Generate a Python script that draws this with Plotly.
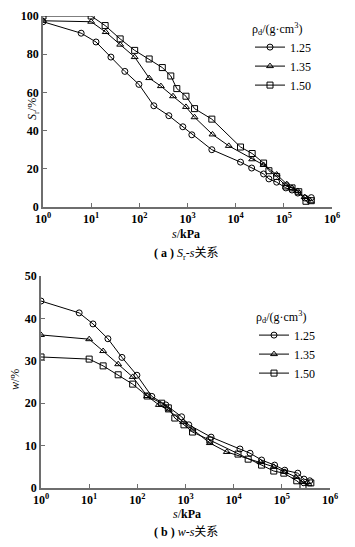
import plotly.graph_objects as go

W, H = 355, 547

# ---------------- data ----------------
labels = ["1.25", "1.35", "1.50"]

# (a) Sr - s
sa_125 = [1, 6.2, 12.6, 25.7, 50, 98, 200, 410, 800, 1230, 3200, 12600, 21500, 38000, 49000, 71000, 110000, 148000, 195000, 275000, 372000]
sr_125 = [97, 91, 86.4, 78.5, 71, 64.2, 53, 47.8, 42, 37.8, 30, 23.5, 20.4, 17.3, 14.7, 13, 10, 8.9, 7.3, 4.7, 4.9]

sa_135 = [1, 10, 20, 40, 80, 160, 280, 500, 930, 1400, 3300, 7200, 22000, 38000, 71000, 115000, 148000, 195000, 270000, 360000]
sr_135 = [97.5, 97, 91.6, 85, 78.5, 67.5, 63.3, 58, 52.4, 47, 38, 32, 25, 22, 17, 12, 10, 8.4, 5.2, 3]

sa_150 = [1, 10, 19.5, 40, 80, 160, 300, 450, 600, 930, 1400, 3200, 12600, 22000, 38000, 49000, 71000, 110000, 148000, 204000, 288000, 372000]
sr_150 = [100, 100, 95, 88, 82, 77.5, 73, 68.6, 62, 58, 51.5, 46, 31.4, 28, 23, 19, 16, 11, 10, 8, 3, 3.3]

# (b) w - s
sb_125 = [1, 6.2, 12, 24.5, 48, 98, 200, 390, 830, 1170, 3400, 13500, 21900, 38000, 70800, 115000, 214000, 288000, 380000]
w_125 = [44.1, 41.3, 38.7, 35.2, 30.8, 26.6, 21.6, 19.6, 16.8, 14.9, 12.0, 9.2, 8.2, 6.6, 5.4, 4.2, 3.5, 2.1, 1.7]

sb_135 = [1, 10, 19.5, 40, 80, 160, 280, 450, 890, 1400, 3200, 7200, 36000, 68000, 115000, 195000, 270000, 360000]
w_135 = [36.1, 35.1, 32.3, 29.2, 26.2, 21.7, 19.6, 18.3, 15.6, 13.8, 10.6, 8.5, 6.1, 5.0, 3.8, 2.6, 1.4, 0.9]

sb_150 = [1, 10, 19.5, 40, 80, 160, 320, 440, 600, 930, 1400, 3200, 12300, 20000, 38000, 68000, 110000, 204000, 275000, 400000]
w_150 = [30.9, 30.4, 28.8, 26.7, 24.5, 21.7, 20.0, 18.9, 16.5, 14.9, 13.2, 11.3, 8.0, 6.8, 5.4, 4.0, 3.5, 1.7, 0.5, 1.2]

x_tickvals = [1, 10, 100, 1000, 10000, 100000, 1000000]
x_ticktext = ["10<sup>%d</sup>" % i for i in range(7)]
ya_ticks = [0, 20, 40, 60, 80, 100]
yb_ticks = [0, 10, 20, 30, 40, 50]

symbols = ["circle-open", "triangle-up-open", "square-open"]

# ---------------- helpers ----------------
def px(x):
    return x / W

def py(y):
    return 1 - y / H

SERIF = "Liberation Serif"
MIX = "Liberation Serif, Noto Sans CJK SC"

fig = go.Figure()

sets_a = [(sa_125, sr_125), (sa_135, sr_135), (sa_150, sr_150)]
sets_b = [(sb_125, w_125), (sb_135, w_135), (sb_150, w_150)]

def add_series(sets, xa, ya, leg):
    for i, (xs, ys) in enumerate(sets):
        fig.add_trace(go.Scatter(
            x=xs, y=ys, mode="lines+markers", name=labels[i],
            line=dict(color="black", width=1),
            marker=dict(symbol=symbols[i], size=6, color="black",
                        line=dict(width=1, color="black")),
            xaxis=xa, yaxis=ya, legend=leg))

add_series(sets_a, "x", "y", "legend")
add_series(sets_b, "x2", "y2", "legend2")

axis_common = dict(
    showline=True, linecolor="#6e6e6e", linewidth=1.5,
    ticks="inside", ticklen=4, tickwidth=1.2, tickcolor="#6e6e6e",
    showgrid=False, zeroline=False, automargin=False,
    tickfont=dict(family=SERIF, size=12, color="black", weight="bold"),
)

leg_common = dict(xanchor="left", yanchor="top",
                  bgcolor="rgba(0,0,0,0)", borderwidth=0, tracegroupgap=0,
                  itemwidth=30,
                  title=dict(text="ρ<sub>d</sub>/(g·cm<sup>3</sup>)",
                             font=dict(family=SERIF, size=12, color="black")),
                  font=dict(family=SERIF, size=12, color="black"))

fig.update_layout(
    width=W, height=H,
    margin=dict(l=0, r=0, t=0, b=0, autoexpand=False),
    paper_bgcolor="white", plot_bgcolor="white",
    showlegend=True,
    xaxis=dict(type="log", range=[0, 6], domain=[px(43), px(332)], anchor="y",
               tickvals=x_tickvals, ticktext=x_ticktext, **axis_common),
    yaxis=dict(range=[0, 100], domain=[py(207), py(16)], anchor="x",
               tickvals=ya_ticks, **axis_common),
    xaxis2=dict(type="log", range=[0, 6], domain=[px(41), px(330)], anchor="y2",
                tickvals=x_tickvals, ticktext=x_ticktext, **axis_common),
    yaxis2=dict(range=[0, 50], domain=[py(488), py(276)], anchor="x2",
                tickvals=yb_ticks, **axis_common),
    legend=dict(x=px(250), y=py(17), **leg_common),
    legend2=dict(x=px(254), y=py(305), **leg_common),
)

annos = [
    # axis titles
    dict(x=px(186), y=py(234), text="<i>s</i>/<b>kPa</b>", font=dict(family=SERIF, size=12)),
    dict(x=px(187), y=py(514), text="<i>s</i>/<b>kPa</b>", font=dict(family=SERIF, size=12)),
    dict(x=px(33), y=py(109), text="<i>S</i><sub>r</sub>/%", textangle=-90, font=dict(family=SERIF, size=12)),
    dict(x=px(15), y=py(380), text="<i>w</i>/%", textangle=-90, font=dict(family=SERIF, size=12)),
    # captions
    dict(x=px(186), y=py(254), text="<b>( a )</b> <i>S</i><sub>r</sub>-<i>s</i>关系", font=dict(family=MIX, size=12)),
    dict(x=px(186), y=py(532), text="<b>( b )</b> <i>w</i>-<i>s</i>关系", font=dict(family=MIX, size=12)),
]
for a in annos:
    a.update(xref="paper", yref="paper", showarrow=False, xanchor="center", yanchor="middle")
    a["font"]["color"] = "black"
    fig.add_annotation(**a)

fig.write_html("out.html",
               config={"displayModeBar": False},
               post_script="document.body.style.margin='0';document.body.style.padding='0';")
